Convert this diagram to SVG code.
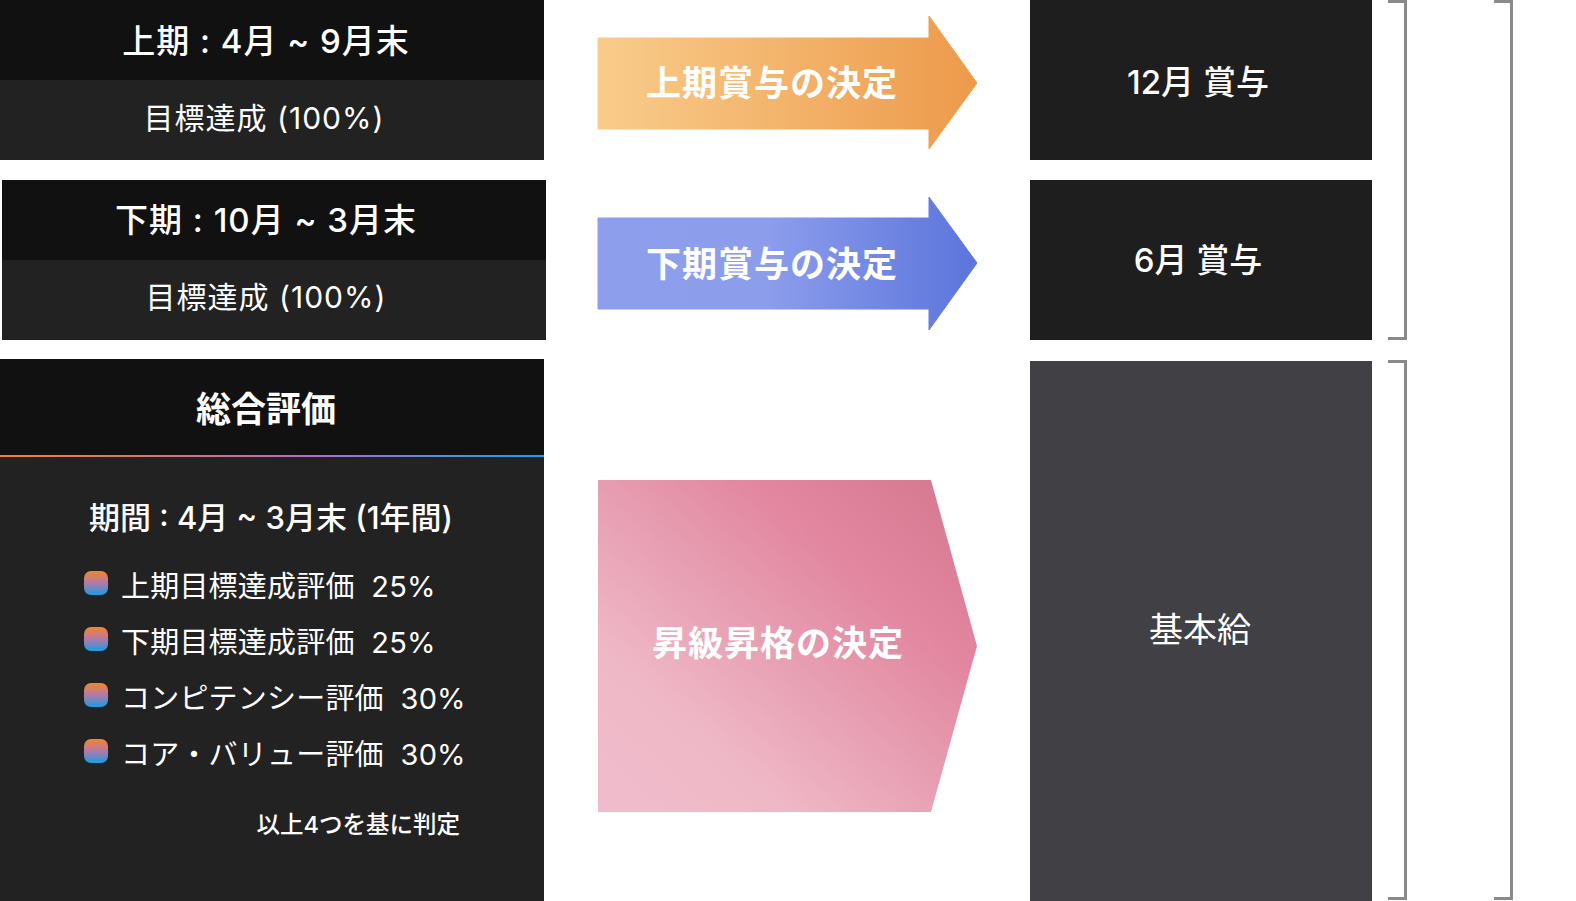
<svg xmlns="http://www.w3.org/2000/svg" width="1576" height="901" viewBox="0 0 1576 901">
<defs>
<linearGradient id="gOrange" x1="0" y1="0" x2="1" y2="0">
<stop offset="0" stop-color="#f9cc8b"/>
<stop offset="1" stop-color="#ed9a4a"/>
</linearGradient>
<linearGradient id="gBlue" x1="0" y1="0" x2="1" y2="0">
<stop offset="0" stop-color="#8d9eec"/>
<stop offset="0.45" stop-color="#8b9deb"/>
<stop offset="1" stop-color="#5c74dc"/>
</linearGradient>
<linearGradient id="gPink" x1="0" y1="1" x2="1" y2="0">
<stop offset="0" stop-color="#f0bccb"/>
<stop offset="0.25" stop-color="#efb8c7"/>
<stop offset="0.5" stop-color="#e79db1"/>
<stop offset="0.7" stop-color="#e2879f"/>
<stop offset="1" stop-color="#d3778f"/>
</linearGradient>
<linearGradient id="gLine" x1="0" y1="0" x2="1" y2="0">
<stop offset="0" stop-color="#f08030"/>
<stop offset="0.6" stop-color="#a674c4"/>
<stop offset="1" stop-color="#1aa0e2"/>
</linearGradient>
<linearGradient id="gBullet" x1="0" y1="0" x2="0" y2="1">
<stop offset="0" stop-color="#f7832a"/>
<stop offset="0.5" stop-color="#b27aa8"/>
<stop offset="1" stop-color="#1a9ce2"/>
</linearGradient>
<style>
text{font-family:"Inter","Noto Sans CJK JP","Noto Sans",sans-serif;fill:#ffffff;white-space:pre;}
.hd{font-size:33px;font-weight:500;text-anchor:middle;letter-spacing:1px;}
.bd{font-size:30px;font-weight:400;text-anchor:middle;letter-spacing:1px;}
.ar{font-size:35px;font-weight:700;text-anchor:middle;letter-spacing:1px;font-family:"Noto Sans CJK JP",sans-serif;}
.rt{font-size:33px;font-weight:500;text-anchor:middle;}
.li{font-size:29px;font-weight:400;letter-spacing:0.2px;}
.bracket{fill:none;stroke:#8a8a8a;stroke-width:3;}
</style>
</defs>
<rect width="1576" height="901" fill="#ffffff"/>

<g id="node-kamiki">
<rect x="0" y="0" width="544" height="80" fill="#111111"/>
<rect x="0" y="80" width="544" height="80" fill="#222222"/>
<text class="hd" x="266" y="53">上期 : 4月 ~ 9月末</text>
<text class="bd" x="264" y="129">目標達成 (100%)</text>
</g>

<g id="node-shimoki">
<rect x="2" y="180" width="544" height="80" fill="#111111"/>
<rect x="2" y="260" width="544" height="80" fill="#222222"/>
<text class="hd" x="266" y="232">下期 : 10月 ~ 3月末</text>
<text class="bd" x="266" y="308">目標達成 (100%)</text>
</g>

<g id="node-sougou">
<rect x="0" y="359" width="544" height="96" fill="#111111"/>
<rect x="0" y="455" width="544" height="2" fill="url(#gLine)"/>
<rect x="0" y="457" width="544" height="444" fill="#222222"/>
<text x="266" y="422" style="font-size:35px;font-weight:700;text-anchor:middle">総合評価</text>
<text x="271" y="529" style="font-size:31px;font-weight:500;text-anchor:middle">期間 : 4月 ~ 3月末 (1年間)</text>
<rect x="84" y="571" width="24" height="24" rx="7" fill="url(#gBullet)"/>
<text class="li" x="121" y="597">上期目標達成評価  25%</text>
<rect x="84" y="627" width="24" height="24" rx="7" fill="url(#gBullet)"/>
<text class="li" x="121" y="653">下期目標達成評価  25%</text>
<rect x="84" y="683" width="24" height="24" rx="7" fill="url(#gBullet)"/>
<text class="li" x="121" y="709">コンピテンシー評価  30%</text>
<rect x="84" y="739" width="24" height="24" rx="7" fill="url(#gBullet)"/>
<text class="li" x="121" y="765">コア・バリュー評価  30%</text>
<text x="460" y="833" style="font-size:23.5px;font-weight:500;text-anchor:end">以上4つを基に判定</text>
</g>

<g id="node-bonus12">
<rect x="1030" y="0" width="342" height="160" fill="#1e1e1e"/>
<text class="rt" x="1198" y="94">12月 賞与</text>
</g>

<g id="node-bonus6">
<rect x="1030" y="180" width="342" height="160" fill="#1e1e1e"/>
<text class="rt" x="1198" y="272">6月 賞与</text>
</g>

<g id="node-kihonkyu">
<rect x="1030" y="361" width="342" height="540" fill="#414045"/>
<text x="1200" y="642" style="font-size:34px;font-weight:400;text-anchor:middle">基本給</text>
</g>

<g id="connectors">
<path d="M598,38 H929 V16 L977,83 L929,149 V129 H598 Z" fill="url(#gOrange)" stroke="url(#gOrange)" stroke-width="1" stroke-linejoin="round"/>
<text class="ar" x="772" y="96">上期賞与の決定</text>
<path d="M598,218 H929 V197 L977,263 L929,330 V309 H598 Z" fill="url(#gBlue)" stroke="url(#gBlue)" stroke-width="1" stroke-linejoin="round"/>
<text class="ar" x="772" y="277">下期賞与の決定</text>
<path d="M598,480 H931 L977,646 L931,812 H598 Z" fill="url(#gPink)"/>
<text class="ar" x="778" y="656">昇級昇格の決定</text>
<path class="bracket" d="M1388,1.5 H1405.5 V338.5 H1388"/>
<path class="bracket" d="M1388,361.5 H1405.5 V898.5 H1388"/>
<path class="bracket" d="M1494,1.5 H1511.5 V898.5 H1494"/>
</g>
</svg>
